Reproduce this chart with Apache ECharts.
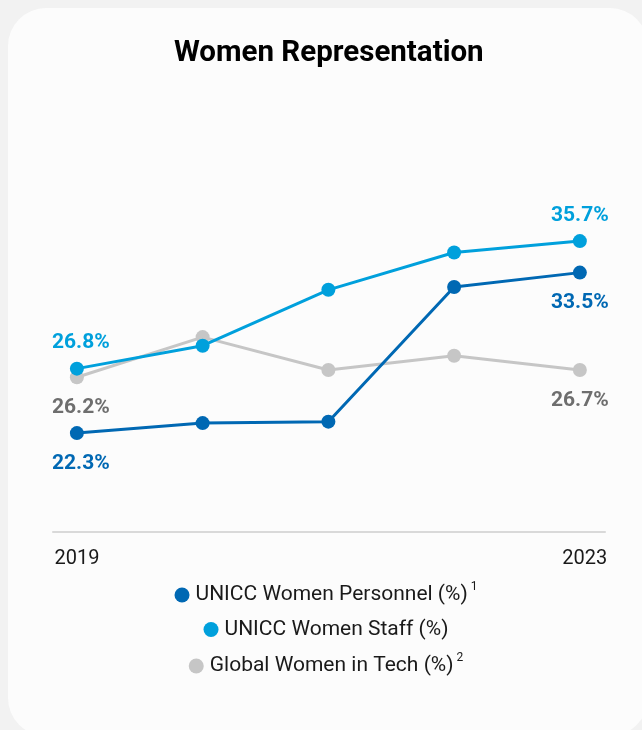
<!DOCTYPE html>
<html>
<head>
<meta charset="utf-8">
<script src="https://cdn.jsdelivr.net/npm/echarts@6/dist/echarts.min.js"></script>
<style>
html,body{margin:0;padding:0;background:#f2f2f2;overflow:hidden;}
#chart{width:652px;height:730px;}
</style>
</head>
<body>
<div id="chart"></div>
<script>
const years = [2019, 2020, 2021, 2022, 2023];
const personnel = [22.3, 23.0, 23.1, 32.5, 33.5];
const staff = [26.8, 28.4, 32.3, 34.9, 35.7];
const globalTech = [26.2, 29.0, 26.7, 27.7, 26.7];
const tickLabels = [2019, 2023];
const seriesNames = ['UNICC Women Personnel (%)', 'UNICC Women Staff (%)', 'Global Women in Tech (%)'];
const superscripts = ['1', '', '2'];

const colors = ['#0068b3', '#00a0dc', '#c6c6c6'];
const labelColors = ['#0068b3', '#00a0dc', '#6e6e6e'];
const labelPos = [['bottom', 'bottom'], ['top', 'top'], ['bottom', 'bottom']];
const allData = [personnel, staff, globalTech];

const chart = echarts.init(document.getElementById('chart'));

function mkSeries(i) {
  const vals = allData[i];
  return {
    name: seriesNames[i],
    type: 'line',
    data: vals.map((v, k) => {
      const item = { value: [years[k], v] };
      if (k === 0 || k === vals.length - 1) {
        const pos = labelPos[i][k === 0 ? 0 : 1];
        item.label = {
          show: true,
          position: pos,
          distance: pos === 'top' ? 8 : 13,
          offset: k === 0 ? [4, 0] : [0, 0],
          formatter: (p) => p.value[1].toFixed(1) + '%'
        };
      }
      return item;
    }),
    symbol: 'circle',
    symbolSize: 14,
    lineStyle: { width: 3, color: colors[i] },
    itemStyle: { color: colors[i] },
    label: {
      show: false,
      fontFamily: 'Roboto',
      fontWeight: 'bold',
      fontSize: 21,
      color: labelColors[i]
    },
    emphasis: { disabled: true },
    z: 10 - i
  };
}

function mkLegend(i, top) {
  return {
    data: [seriesNames[i]],
    left: 'center',
    top: top,
    icon: 'circle',
    itemWidth: 15,
    itemHeight: 15,
    itemGap: 6,
    selectedMode: false,
    formatter: (n) => '{t|' + n + '}' + (superscripts[i] ? '{s|' + superscripts[i] + '}' : ''),
    textStyle: {
      rich: {
        t: { fontFamily: 'Roboto', fontSize: 21, color: '#1a1a1a', padding: [0, 0, 0, 1] },
        s: { fontFamily: 'Roboto', fontSize: 12, color: '#1a1a1a', verticalAlign: 'top', padding: [0, 0, 16, 3] }
      }
    }
  };
}

chart.setOption({
  animation: false,
  color: colors,
  graphic: [{
    type: 'rect',
    z: -10,
    silent: true,
    shape: { x: 8, y: 8, width: 640, height: 728, r: 38 },
    style: { fill: '#fcfcfc' }
  }],
  title: {
    text: 'Women Representation',
    left: 169,
    top: 34,
    textStyle: { fontFamily: 'Roboto', fontWeight: 'bold', fontSize: 29.5, color: '#000' }
  },
  legend: [mkLegend(0, 576), mkLegend(1, 614), mkLegend(2, 647)],
  grid: { left: 53, right: 47, top: 202.4, bottom: 198, containLabel: false },
  xAxis: {
    type: 'value',
    min: 2018.81,
    max: 2023.2,
    axisLine: { show: true, lineStyle: { color: '#d9d9d9', width: 2 } },
    axisTick: { show: false },
    splitLine: { show: false },
    axisLabel: {
      customValues: tickLabels,
      margin: 17,
      fontFamily: 'Roboto',
      fontSize: 20,
      color: '#1a1a1a',
      formatter: (v) => (v === tickLabels[tickLabels.length - 1] ? '{r|' + v + '}' : '{l|' + v + '}'),
      rich: {
        l: { fontFamily: 'Roboto', fontSize: 20, color: '#1a1a1a' },
        r: { fontFamily: 'Roboto', fontSize: 20, color: '#1a1a1a', padding: [0, 0, 0, 10] }
      }
    }
  },
  yAxis: {
    type: 'value',
    min: 15.4,
    max: 38.4,
    show: false,
    splitLine: { show: false }
  },
  series: [mkSeries(0), mkSeries(1), mkSeries(2)]
});
</script>
</body>
</html>
